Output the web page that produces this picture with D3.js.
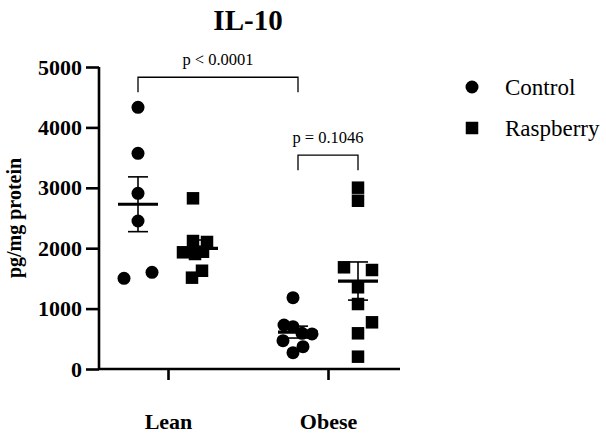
<!DOCTYPE html>
<html>
<head>
<meta charset="utf-8">
<script src="https://cdn.jsdelivr.net/npm/d3@7"></script>
<style>
  html, body { margin: 0; padding: 0; background: #fff; }
  svg text { font-family: "Liberation Serif", "Times New Roman", Times, serif !important; }
</style>
</head>
<body>
<svg id="chart" width="606" height="435"></svg>
<script>
// IL-10 concentration (pg/mg protein) per animal
const groups = ["Lean", "Obese"];
const series = ["Control", "Raspberry"];
const leanControl    = [4333, 3571, 2909, 2450, 1501, 1601];
const leanRaspberry  = [2826, 2119, 2103, 1932, 1904, 1942, 1627, 1512];
const obeseControl   = [1181, 728, 700, 591, 580, 469, 369, 270];
const obeseRaspberry = [3002, 2786, 1684, 1639, 1353, 1076, 773, 591, 204];
// horizontal scatter offsets (px) so overlapping points stay visible
const jitterLeanControl    = [0, 0, 0, 0, -14, 14];
const jitterLeanRaspberry  = [-5, -5, 9, -15, -3, 5, 4, -6];
const jitterObeseControl   = [-5, -14, -5, 4, 14, -15, 5, -5];
const jitterObeseRaspberry = [0, 0, -14, 14, 0, 0, 14, 0, 0];
const yTicks = [0, 1000, 2000, 3000, 4000, 5000];
const comparisons = [
  { label: "p < 0.0001", from: ["Lean", "Control"], to: ["Obese", "Control"], level: 4830 },
  { label: "p = 0.1046", from: ["Obese", "Control"], to: ["Obese", "Raspberry"], level: 3540 }
];

const columns = [
  { group: "Lean",  series: "Control",   values: leanControl,    jitter: jitterLeanControl },
  { group: "Lean",  series: "Raspberry", values: leanRaspberry,  jitter: jitterLeanRaspberry },
  { group: "Obese", series: "Control",   values: obeseControl,   jitter: jitterObeseControl },
  { group: "Obese", series: "Raspberry", values: obeseRaspberry, jitter: jitterObeseRaspberry }
];

const svg = d3.select("#chart");
const axisX0 = 99, axisX1 = 400;
const y = d3.scaleLinear().domain([0, 5000]).range([369, 67]);
const xGroup = d3.scalePoint().domain(groups).range([168, 328]);
const xSeries = d3.scalePoint().domain(series).range([-30, 30]);
const colX = (g, s) => xGroup(g) + xSeries(s);

// title
svg.append("text").attr("x", 248).attr("y", 30).attr("text-anchor", "middle")
  .attr("font-size", 29).attr("font-weight", "bold").text("IL-10");

// y axis
const yAxis = svg.append("g").attr("transform", `translate(${axisX0},0)`)
  .call(d3.axisLeft(y).tickValues(yTicks).tickFormat(d3.format("d")).tickSize(13).tickPadding(4));
yAxis.select(".domain").attr("stroke-width", 2.6).attr("d", `M0,${y(5000)}V${y(0)}`);
yAxis.selectAll(".tick line").attr("stroke-width", 2.6);
yAxis.selectAll(".tick text").attr("font-size", 22).attr("font-weight", "bold").attr("fill", "#000");

// x axis
const xAxis = svg.append("g").attr("transform", `translate(0,${y(0)})`)
  .call(d3.axisBottom(xGroup).tickSize(11).tickPadding(33));
xAxis.select(".domain").attr("stroke-width", 2.6).attr("d", `M${axisX0},0H${axisX1}`);
xAxis.selectAll(".tick line").attr("stroke-width", 2.6);
xAxis.selectAll(".tick text").attr("font-size", 22).attr("font-weight", "bold").attr("fill", "#000");

// y axis title
svg.append("text").attr("transform", `translate(21,${(y(0) + y(5000)) / 2}) rotate(-90)`)
  .attr("text-anchor", "middle").attr("font-size", 20).attr("font-weight", "bold")
  .text("pg/mg protein");

// points
const symCircle = d3.symbol().type(d3.symbolCircle).size(Math.PI * 6.5 * 6.5);
const symSquare = d3.symbol().type(d3.symbolSquare).size(12.5 * 12.5);
columns.forEach(c => {
  const cx = colX(c.group, c.series);
  const sym = c.series === "Control" ? symCircle : symSquare;
  svg.append("g").selectAll("path").data(c.values).join("path")
    .attr("d", sym)
    .attr("transform", (d, i) => `translate(${cx + c.jitter[i]},${y(d)})`)
    .attr("fill", "#000");
});

// mean and SEM
columns.forEach(c => {
  const cx = colX(c.group, c.series);
  const m = d3.mean(c.values);
  const sem = d3.deviation(c.values) / Math.sqrt(c.values.length);
  const g = svg.append("g").attr("stroke", "#000");
  g.append("line").attr("x1", cx).attr("x2", cx).attr("y1", y(m + sem)).attr("y2", y(m - sem)).attr("stroke-width", 1.6);
  [m + sem, m - sem].forEach(v => g.append("line").attr("x1", cx - 10).attr("x2", cx + 10)
    .attr("y1", y(v)).attr("y2", y(v)).attr("stroke-width", 1.6));
  g.append("line").attr("x1", cx - 20).attr("x2", cx + 20).attr("y1", y(m)).attr("y2", y(m)).attr("stroke-width", 3.2);
});

// significance brackets
comparisons.forEach(cmp => {
  const x1 = colX(...cmp.from), x2 = colX(...cmp.to);
  const yl = y(cmp.level);
  svg.append("path").attr("d", `M${x1},${yl + 15}V${yl}H${x2}V${yl + 15}`)
    .attr("fill", "none").attr("stroke", "#000").attr("stroke-width", 1.3);
  svg.append("text").attr("x", (x1 + x2) / 2).attr("y", yl - 12).attr("text-anchor", "middle")
    .attr("font-size", 16.5).text(cmp.label);
});

// legend
const legend = svg.append("g").attr("transform", "translate(472,87)");
series.forEach((s, i) => {
  const row = legend.append("g").attr("transform", `translate(0,${i * 41})`);
  row.append("path").attr("d", s === "Control" ? symCircle : symSquare).attr("fill", "#000");
  row.append("text").attr("x", 33).attr("y", 8).attr("font-size", 23).text(s);
});
</script>
</body>
</html>
